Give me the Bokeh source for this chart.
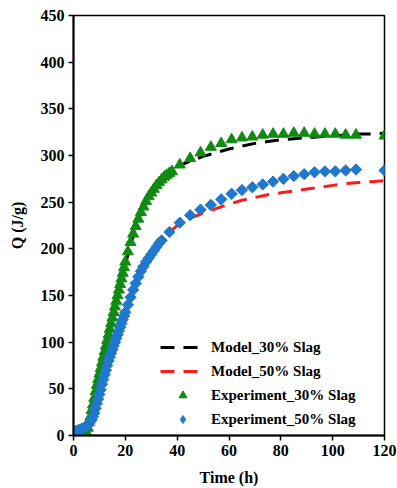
import math
from bokeh.plotting import figure
from bokeh.models import Legend, LegendItem, Range1d, FixedTicker
from bokeh.embed import file_html
from bokeh.resources import INLINE

# ---- data ----
exp30_t = [0, 0.5, 1, 1.5, 2, 2.5, 3, 3.5, 4, 4.5, 5, 5.5, 6, 6.5, 7, 7.5, 8, 8.5, 9, 9.5,
           10, 10.5, 11, 11.5, 12, 12.5, 13, 13.5, 14, 14.5, 15, 15.5, 16, 16.5, 17, 17.5,
           18, 18.5, 19, 19.5, 20, 21, 22, 23, 24, 25, 26, 27, 28, 29, 30, 31, 32, 33, 34,
           35, 36, 37, 38,
           41, 45, 49, 53, 57, 61, 65, 69, 73, 77, 81, 85, 89, 93, 97, 101, 105, 109, 120]
exp30_q = [0, 0, 0, 0, 0, 0, 0.5, 1, 1, 2, 3, 8, 14, 20, 27, 33, 40, 47, 54, 60,
           66, 72, 78, 84, 90, 96, 102, 108, 114, 120, 126, 132, 138, 144, 150, 156,
           162, 168, 174, 180, 186, 197, 207, 216, 224, 232, 239, 245, 251, 256, 260, 264, 268, 271, 274,
           277, 279, 281, 283,
           290, 297, 303, 309, 313, 317, 319, 320, 322, 323, 323, 324, 324, 323, 323, 323, 322, 322, 321]

exp50_t = [0, 0.5, 1, 1.5, 2, 2.5, 3, 3.5, 4, 4.5, 5, 5.5, 6, 6.5, 7, 7.5, 8, 8.5, 9, 9.5,
           10, 10.5, 11, 11.5, 12, 12.5, 13, 13.5, 14, 14.5, 15, 15.5, 16, 16.5, 17, 17.5,
           18, 18.5, 19, 19.5, 20, 21, 22, 23, 24, 25, 26, 27, 28, 29, 30, 31, 32, 33, 34,
           37, 41, 45, 49, 53, 57, 61, 65, 69, 73, 77, 81, 85, 89, 93, 97, 101, 105, 109, 120]
exp50_q = [4, 4, 5, 5, 6, 6, 7, 7, 8, 9, 10, 11, 13, 15, 17, 20, 24, 29, 34, 39,
           44, 49, 55, 60, 65, 70, 75, 80, 84, 88, 92, 96, 100, 104, 108, 112,
           116, 120, 124, 128, 132, 140, 148, 156, 163, 170, 176, 181, 186, 190, 194, 198, 202, 206, 209,
           218, 228, 236, 242, 247, 253, 259, 263, 266, 269, 272, 275, 278, 280, 282, 283, 283, 284, 285, 284]

model_t = [0, 4, 6, 8, 10, 12, 14, 16, 18, 20, 22, 24, 26, 28, 30, 32, 34, 36, 38, 40,
           45, 50, 55, 60, 65, 70, 75, 80, 85, 90, 95, 100, 105, 110, 115, 120]
model30_q = [0, 1, 12, 38, 64, 89, 113, 137, 160, 183, 204, 222, 238, 251, 261, 268, 274, 279, 284, 288,
             294, 299, 303, 307, 310, 313, 315, 317, 318, 319, 320, 321, 322, 323, 323, 324]
model50_q = [3, 7, 12, 23, 43, 64, 83, 99, 115, 131, 147, 162, 175, 185, 193, 201, 208, 214, 220, 225,
             233, 238, 243, 248, 252, 255, 258, 260, 262, 264, 266, 268, 270, 271, 272, 273]

x_ticks = [0, 20, 40, 60, 80, 100, 120]
y_ticks = [0, 50, 100, 150, 200, 250, 300, 350, 400, 450]

labels = ["Model_30% Slag", "Model_50% Slag", "Experiment_30% Slag", "Experiment_50% Slag"]

FONT = "Liberation Serif"
GREEN = "#118A11"
BLUE = "#1F78CC"

p = figure(width=397, height=488, output_backend="svg", toolbar_location=None,
           x_range=Range1d(0, 120), y_range=Range1d(0, 450),
           min_border_left=73, min_border_right=13, min_border_top=15, min_border_bottom=52)
p.background_fill_color = "white"
p.border_fill_color = "white"
p.grid.visible = False
p.outline_line_color = "black"
p.outline_line_width = 1.5

for ax in (p.xaxis[0], p.yaxis[0]):
    ax.axis_line_width = 2
    ax.axis_line_color = "black"
    ax.major_tick_line_width = 1.5
    ax.major_tick_out = 5
    ax.major_tick_in = 0
    ax.minor_tick_line_color = None
    ax.major_label_text_font = FONT
    ax.major_label_text_font_style = "bold"
    ax.major_label_text_font_size = "16px"
    ax.major_label_text_color = "black"
    ax.axis_label_text_font = FONT
    ax.axis_label_text_font_style = "bold"
    ax.axis_label_text_font_size = "16px"
    ax.axis_label_text_color = "black"

p.xaxis.ticker = FixedTicker(ticks=x_ticks)
p.yaxis.ticker = FixedTicker(ticks=y_ticks)
p.xaxis.axis_label = "Time (h)"
p.yaxis.axis_label = "Q (J/g)"
p.xaxis.major_label_standoff = 4
p.xaxis.axis_label_standoff = 10
p.yaxis.major_label_standoff = 4
p.yaxis.axis_label_standoff = 12

r_m30 = p.line(model_t, model30_q, line_color="black", line_width=3, line_dash="14 9")
r_m50 = p.line(model_t, model50_q, line_color="#FF1A1A", line_width=3, line_dash="14 9")
r_e30 = p.scatter(exp30_t, exp30_q, marker="triangle", size=11, fill_color=GREEN,
                  line_color=GREEN)
# diamond glyph used for the legend entry; it sits under the last measured point
r_e50_leg = p.scatter(exp50_t[-1:], exp50_q[-1:], marker="diamond", size=11,
                      fill_color=BLUE, line_color=BLUE)
r_e50 = p.scatter(exp50_t, exp50_q, marker="square", angle=math.pi / 4, size=8,
                  fill_color=BLUE, line_color=BLUE)

legend = Legend(items=[LegendItem(label=labels[0], renderers=[r_m30]),
                       LegendItem(label=labels[1], renderers=[r_m50]),
                       LegendItem(label=labels[2], renderers=[r_e30]),
                       LegendItem(label=labels[3], renderers=[r_e50_leg])],
                location=(87, 6), padding=0, margin=0, spacing=4,
                glyph_width=45, glyph_height=20, label_height=20, label_standoff=6,
                label_text_font=FONT, label_text_font_style="bold",
                label_text_font_size="15px", label_text_color="black",
                border_line_color=None, background_fill_alpha=0)
p.add_layout(legend)

open("out.html", "w").write(file_html(p, INLINE))
